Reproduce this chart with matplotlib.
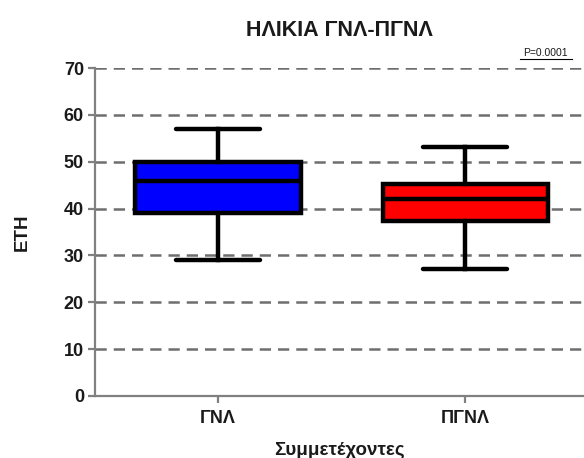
import matplotlib.pyplot as plt
from matplotlib.lines import Line2D

plt.rcParams['font.family'] = ['Liberation Sans', 'DejaVu Sans']

# data
groups = ['ΓΝΛ', 'ΠΓΝΛ']
whislo = [29, 27]
q1 = [39, 37.3]
med = [45.8, 42]
q3 = [50, 45.2]
whishi = [57, 53.2]
colors = ['#0000ff', '#ff0000']
yticks = [0, 10, 20, 30, 40, 50, 60, 70]

fig = plt.figure(figsize=(5.84, 4.58), dpi=100)
ax = fig.add_axes([0.1627, 0.1354, 0.8373, 0.7161])

stats = []
for i in range(len(groups)):
    stats.append({'whislo': whislo[i], 'q1': q1[i], 'med': med[i],
                  'q3': q3[i], 'whishi': whishi[i], 'fliers': []})

lw = 3.2
bp = ax.bxp(stats, positions=[1, 2], widths=0.67, capwidths=0.34,
            patch_artist=True, showfliers=False,
            boxprops=dict(linewidth=lw, edgecolor='black'),
            medianprops=dict(color='black', linewidth=lw),
            whiskerprops=dict(color='black', linewidth=lw),
            capprops=dict(color='black', linewidth=lw, solid_capstyle='round'))
for patch, c in zip(bp['boxes'], colors):
    patch.set_facecolor(c)
    patch.set_zorder(3)
for k in ['medians', 'whiskers', 'caps']:
    for l in bp[k]:
        l.set_zorder(4)

for y in yticks[1:]:
    ax.axhline(y, color='#6e6e6e', linewidth=1.8, linestyle=(0, (4.5, 2.8)), zorder=1)

ax.set_xlim(0.502, 2.48)
ax.set_ylim(0, 70)
ax.set_yticks(yticks)
ax.set_xticks([1, 2])
ax.set_xticklabels(groups)

for s in ['top', 'right']:
    ax.spines[s].set_visible(False)
for s in ['left', 'bottom']:
    ax.spines[s].set_color('#808080')
    ax.spines[s].set_linewidth(1.6)
ax.tick_params(axis='both', colors='#808080', width=1.6, length=5,
               labelcolor='#1a1a1a', labelsize=13)
for t in ax.get_xticklabels() + ax.get_yticklabels():
    t.set_fontweight('bold')
ax.tick_params(axis='x', pad=5)
ax.tick_params(axis='y', pad=3)

ax.set_ylabel('ΕΤΗ', fontsize=13.5, fontweight='bold', labelpad=24, color='#1a1a1a')
ax.set_xlabel('Συμμετέχοντες', fontsize=13.5, fontweight='bold', labelpad=11, color='#1a1a1a')
fig.text(0.582, 0.933, 'ΗΛΙΚΙΑ ΓΝΛ-ΠΓΝΛ', ha='center', va='center',
         fontsize=15.5, fontweight='bold', color='#1a1a1a')

fig.text(0.934, 0.873, 'P=0.0001', ha='center', va='bottom', fontsize=7.5, color='#1a1a1a')
fig.add_artist(Line2D([0.890, 0.979], [0.872, 0.872], color='black', linewidth=0.8))

fig.savefig('out.png', dpi=100)
